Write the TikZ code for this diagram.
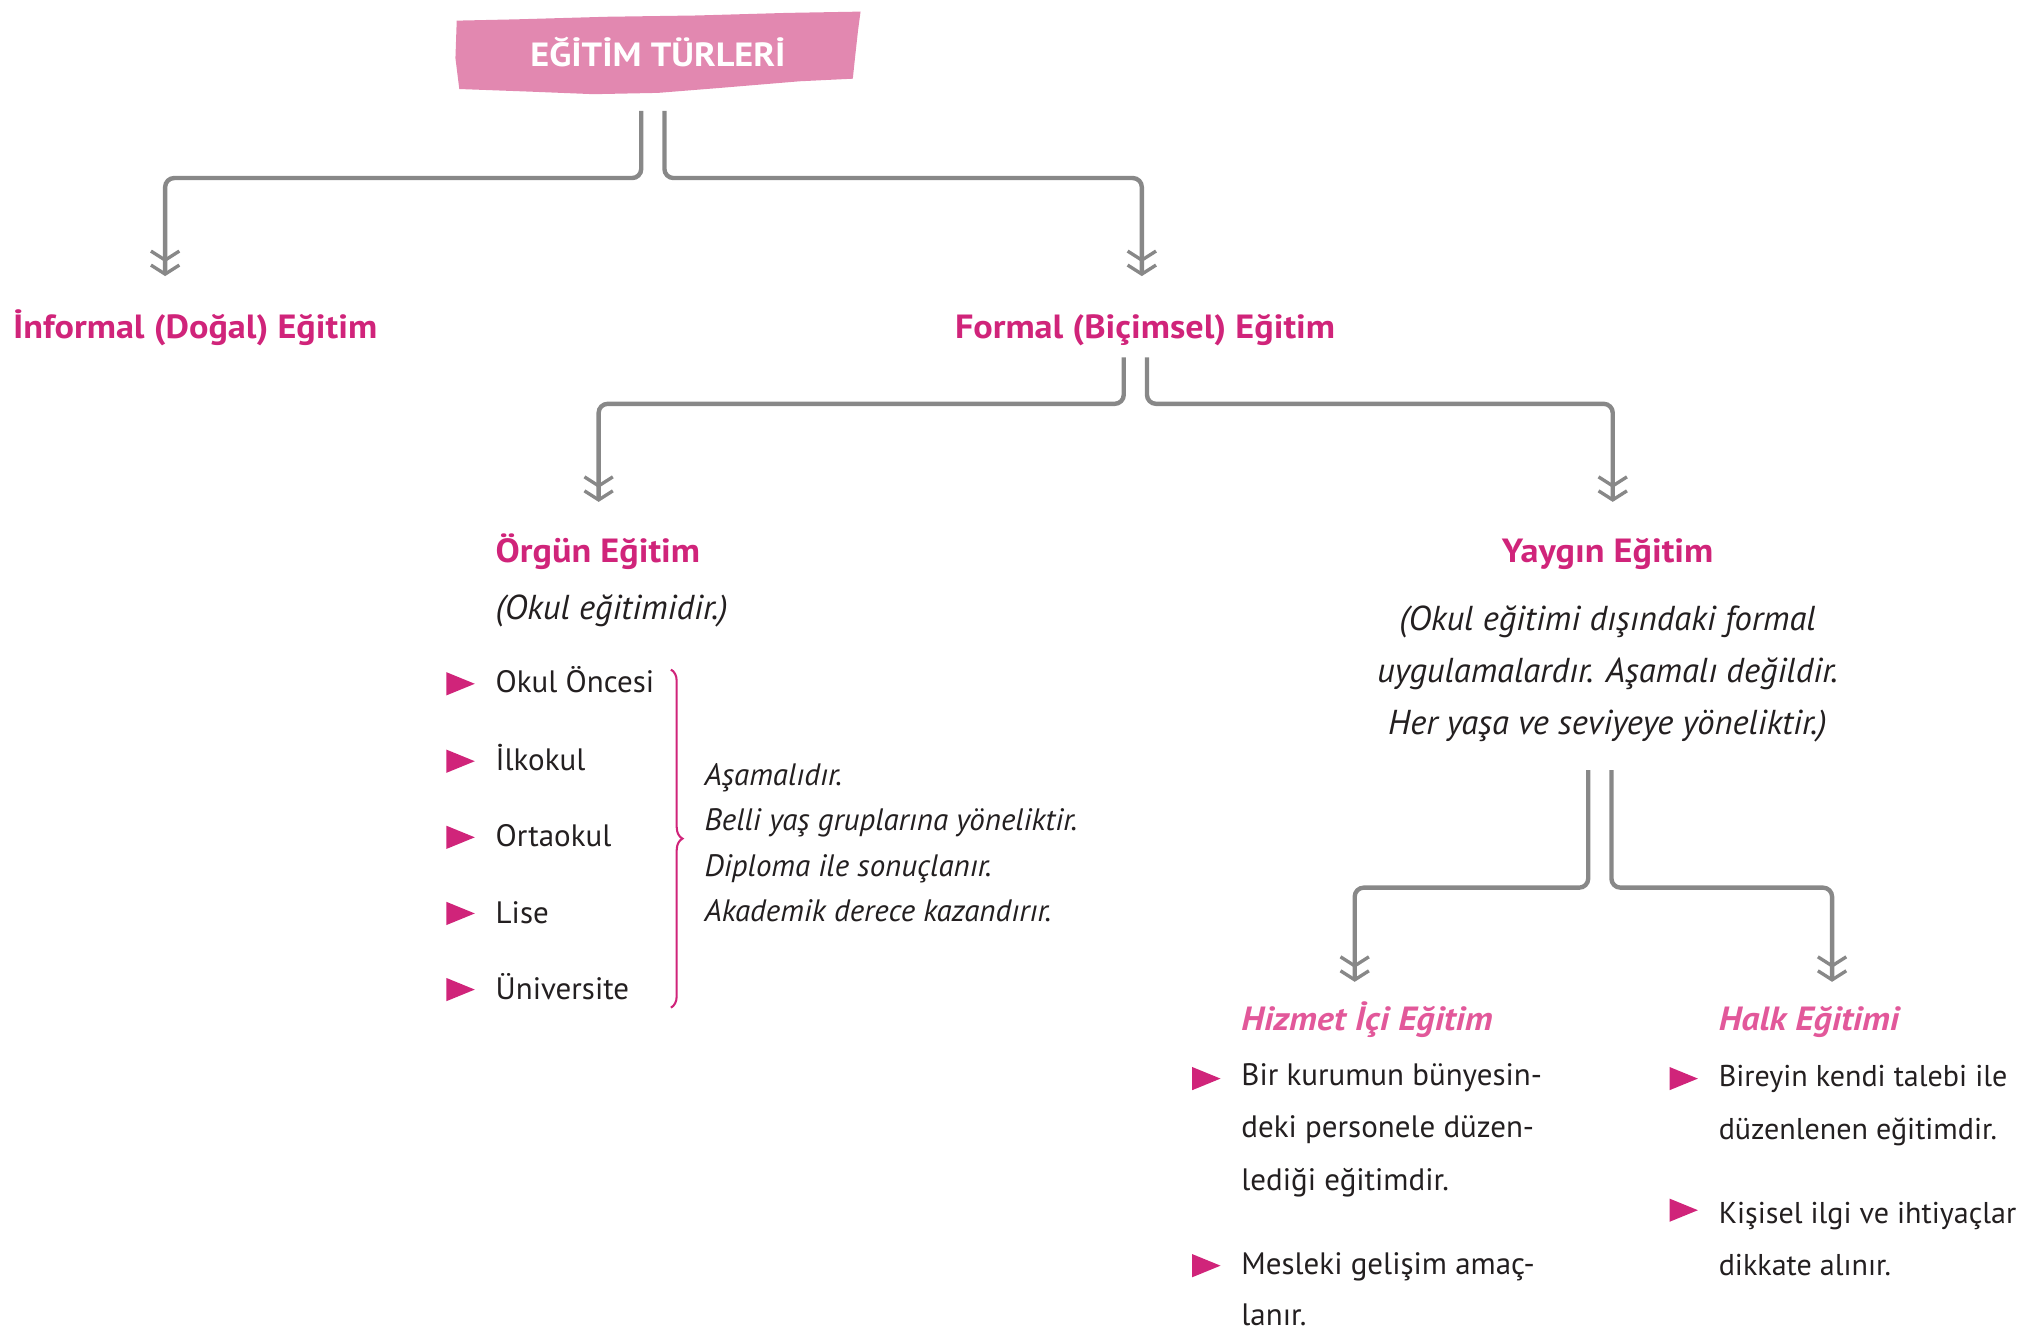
\documentclass[tikz,border=0pt]{standalone}
\usepackage{fontspec}
\setmainfont{PT Sans}
\newfontfamily\headfont[FakeStretch=1.08]{PT Sans}
\usetikzlibrary{arrows.meta,decorations.pathreplacing,calc}
\definecolor{mag}{RGB}{208,36,122}
\definecolor{lpink}{RGB}{226,88,154}
\definecolor{ttl}{RGB}{226,136,176}
\definecolor{gr}{RGB}{136,136,136}
\definecolor{txt}{RGB}{35,31,32}
\tikzset{
  chev/.tip={Straight Barb[length=7pt,width=22pt,line width=2.6pt,sep=1pt] Straight Barb[length=7pt,width=22pt,line width=2.6pt]},
  arr/.style={draw=gr, line width=3.4pt, rounded corners=7pt, -{chev}},
  head/.style={font=\headfont\fontsize{26}{30}\selectfont\bfseries, text=mag, inner sep=0, anchor=base west},
  subhead/.style={font=\headfont\fontsize{26}{30}\selectfont\bfseries\itshape, text=lpink, inner sep=0, anchor=base west},
  body/.style={font=\fontsize{24}{41}\selectfont, text=txt, inner sep=0, anchor=base west},
  bodyk/.style={font=\fontsize{23.3}{41}\selectfont, text=txt, inner sep=0, anchor=base west},
  ital/.style={font=\fontsize{24}{35}\selectfont\itshape, text=txt, inner sep=0, anchor=base west},
  note/.style={font=\fontsize{26.8}{40}\selectfont\itshape, text=txt, inner sep=0},
  bullet/.style={fill=mag},
  brace/.style={draw=mag, line width=1.6pt, decorate, decoration={brace, amplitude=9pt}},
}
\newcommand\mybullet[3]{\fill[bullet] (#1,#2) ++(-11,-9) -- ++(22,9) -- ++(-22,9) -- cycle; \coordinate (#3) at (#1,#2);}
\begin{document}
\begin{tikzpicture}[x=1pt,y=-1pt]
\useasboundingbox (0,0) rectangle (1568,1032);
% title
\fill[ttl] (354,16) -- (400,15) -- (470,13) -- (540,12) -- (610,10) -- (667,9) -- (665,24) -- (663,42) -- (661,61) -- (620,63) -- (560,68) -- (510,72) -- (460,73) -- (410,71) -- (356,69) -- (353,45) -- cycle;
\node[font=\headfont\fontsize{26}{30}\selectfont\bfseries, text=white, inner sep=0] (title) at (510,40) {EĞİTİM TÜRLERİ};
% level 1
\node[head] (inf) at (10,262) {İnformal (Doğal) Eğitim};
\node[head] (form) at (740,262) {Formal (Biçimsel) Eğitim};
\coordinate (tL) at (497,86);
\coordinate (tR) at (515,86);
\coordinate (eInf) at (128,214);
\coordinate (eForm) at (885,214);
\draw[arr] (tL) -- (497,138) -- (128,138) -- (eInf);
\draw[arr] (tR) -- (515,138) -- (885,138) -- (eForm);
% level 2
\node[head] (org) at (384,436) {Örgün Eğitim};
\node[head, anchor=base] (yay) at (1246,436) {Yaygın Eğitim};
\coordinate (fL) at (871,277);
\coordinate (fR) at (889,277);
\coordinate (eOrg) at (464,389);
\coordinate (eYay) at (1250,389);
\draw[arr] (fL) -- (871,313) -- (464,313) -- (eOrg);
\draw[arr] (fR) -- (889,313) -- (1250,313) -- (eYay);
% orgun details
\node[note, anchor=base west] (orgnote) at (384,480) {(Okul eğitimidir.)};
\mybullet{357}{530}{b1}
\mybullet{357}{590}{b2}
\mybullet{357}{649}{b3}
\mybullet{357}{708}{b4}
\mybullet{357}{767}{b5}
\node[body] (i1) at (384,537) {Okul Öncesi};
\node[body] (i2) at (384,597) {İlkokul};
\node[body] (i3) at (384,656) {Ortaokul};
\node[body] (i4) at (384,716) {Lise};
\node[body] (i5) at (384,775) {Üniversite};
\coordinate (brT) at (520,519);
\coordinate (brB) at (520,781);
\draw[brace] (brT) -- (brB);
\node[ital] (orgprops) at (546,609) {\begin{tabular}[t]{@{}l@{}}Aşamalıdır.\\Belli yaş gruplarına yöneliktir.\\Diploma ile sonuçlanır.\\Akademik derece kazandırır.\end{tabular}};
% yaygin details
\node[note, anchor=base] (yaynote) at (1246,489) {\begin{tabular}[t]{@{}c@{}}(Okul eğitimi dışındaki formal\\uygulamalardır. Aşamalı değildir.\\Her yaşa ve seviyeye yöneliktir.)\end{tabular}};
% level 3
\node[subhead] (hiz) at (962,799) {Hizmet İçi Eğitim};
\node[subhead] (halk) at (1332,799) {Halk Eğitimi};
\coordinate (yL) at (1231,597);
\coordinate (yR) at (1249,597);
\coordinate (eHiz) at (1050,761);
\coordinate (eHalk) at (1420,761);
\draw[arr] (yL) -- (1231,688) -- (1050,688) -- (eHiz);
\draw[arr] (yR) -- (1249,688) -- (1420,688) -- (eHalk);
% hizmet bullets
\mybullet{935}{836}{h1}
\mybullet{935}{981}{h2}
\node[body] (ht1) at (962,841) {\begin{tabular}[t]{@{}l@{}}Bir kurumun bünyesin-\\deki personele düzen-\\lediği eğitimdir.\end{tabular}};
\node[body] (ht2) at (962,988) {Mesleki gelişim amaç-};
\node[body] (ht3) at (962,1027) {lanır.};
% halk bullets
\mybullet{1305}{836}{k1}
\mybullet{1305}{938}{k2}
\node[bodyk] (kt1) at (1332,842) {\begin{tabular}[t]{@{}l@{}}Bireyin kendi talebi ile\\düzenlenen eğitimdir.\end{tabular}};
\node[bodyk] (kt2) at (1332,948) {\begin{tabular}[t]{@{}l@{}}Kişisel ilgi ve ihtiyaçlar\\dikkate alınır.\end{tabular}};
\end{tikzpicture}
\end{document}
